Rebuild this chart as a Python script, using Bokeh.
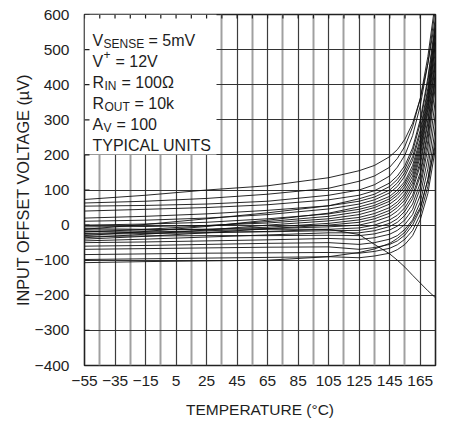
from bokeh.plotting import figure
from bokeh.models import Range1d, FixedTicker, ColumnDataSource
from bokeh.core.properties import value
from bokeh.embed import file_html
from bokeh.resources import INLINE

# ---------------- data ----------------
TEMP = [-55, -15, 25, 65, 105, 125, 135, 145, 150, 155, 160, 165, 170, 175]

U01 = [73, 85, 100, 112, 135, 155, 170, 195, 215, 245, 290, 360, 460, 590]
U02 = [63, 68, 76, 88, 105, 125, 140, 165, 190, 225, 280, 360, 480, 640]
U03 = [54, 56, 60, 68, 85, 100, 115, 140, 165, 200, 255, 340, 460, 620]
U04 = [40, 45, 50, 58, 72, 85, 98, 120, 140, 170, 220, 300, 420, 580]
U05 = [-12, 2, 18, 35, 55, 75, 88, 110, 130, 160, 210, 290, 410, 570]
U06 = [20, 25, 32, 42, 55, 68, 80, 100, 120, 150, 195, 270, 390, 560]
U07 = [11, 14, 20, 30, 46, 60, 72, 92, 110, 140, 185, 260, 380, 560]
U08 = [-30, -18, -4, 14, 34, 52, 64, 82, 100, 125, 170, 245, 370, 540]
U09 = [0, 3, 8, 18, 32, 45, 56, 75, 92, 118, 160, 235, 360, 540]
U10 = [-20, -12, -2, 10, 25, 38, 50, 68, 85, 110, 150, 225, 350, 520]
U11 = [-5, -4, -1, 6, 18, 30, 42, 60, 76, 100, 140, 215, 340, 520]
U12 = [-36, -26, -14, 0, 12, 22, 33, 50, 66, 90, 130, 205, 330, 500]
U13 = [-14, -14, -12, -6, 5, 15, 25, 42, 58, 82, 120, 195, 320, 480]
U14 = [-40, -32, -22, -10, 0, 8, 18, 34, 50, 72, 110, 180, 300, 470]
U15 = [-10, -12, -12, -10, -5, 0, 10, 25, 40, 62, 100, 170, 290, 460]
U16 = [-26, -24, -22, -18, -12, -8, 0, 15, 28, 50, 85, 150, 270, 440]
U17 = [-18, -20, -20, -19, -16, -15, -8, 5, 18, 40, 75, 140, 260, 430]
U18 = [-45, -40, -34, -28, -22, -22, -16, -4, 8, 28, 60, 120, 240, 420]
U19 = [-32, -31, -30, -30, -29, -30, -25, -14, -3, 15, 45, 105, 220, 400]
U20 = [-50, -48, -45, -42, -38, -41, -36, -26, -15, 2, 30, 85, 190, 360]
U21 = [-60, -58, -55, -52, -50, -55, -50, -40, -30, -12, 15, 65, 160, 320]
U22 = [-69, -67, -65, -63, -62, -69, -64, -55, -45, -28, 0, 45, 130, 280]
U23 = [-84, -82, -80, -79, -78, -80, -75, -66, -56, -40, -15, 30, 110, 250]
U24 = [-98, -96, -94, -92, -90, -93, -88, -80, -70, -55, -30, 15, 90, 220]
U25 = [-107, -104, -102, -100, -90, -78, -68, -52, -38, -20, 10, 50, 130, 230]
U26 = [-24, -20, -16, -12, -12, -27, -55, -82, -100, -120, -143, -165, -187, -207]

UNITS = [U01, U02, U03, U04, U05, U06, U07, U08, U09, U10, U11, U12, U13,
         U14, U15, U16, U17, U18, U19, U20, U21, U22, U23, U24, U25, U26]

X_TICKS = [-55, -35, -15, 5, 25, 45, 65, 85, 105, 125, 145, 165]
X_MINOR = [-45, -25, -5, 15, 35, 55, 75, 95, 115, 135, 155]
X_TOP_TICKS = [-55, -45, -35, -25, -15, -5, 5, 15, 25, 35, 45, 55, 65, 75, 85,
               95, 105, 115, 125, 135, 145, 155, 165]
Y_TICKS = [-400, -300, -200, -100, 0, 100, 200, 300, 400, 500, 600]
X_LABELS = ["\u221255", "\u221235", "\u221215", "5", "25", "45", "65", "85",
            "105", "125", "145", "165"]
Y_LABELS = ["\u2212400", "\u2212300", "\u2212200", "\u2212100", "0", "100",
            "200", "300", "400", "500", "600"]

X_TITLE = "TEMPERATURE (\u00b0C)"
Y_TITLE = "INPUT OFFSET VOLTAGE (\u00b5V)"

X_MIN, X_MAX = -55, 175
Y_MIN, Y_MAX = -400, 600
BOX_RIGHT, BOX_BOTTOM = 31.5, 201

# condition box text pieces: (text, x offset px, baseline offset px, font px)
NOTE_PIECES = [
    ("V", 8, 26, 16), ("SENSE", 19, 29, 12), ("= 5mV", 64, 26, 16),
    ("V", 8, 47, 16), ("+", 19, 40, 12), ("= 12V", 31, 47, 16),
    ("R", 8, 68, 16), ("IN", 20, 71, 12), ("= 100\u03a9", 37, 68, 16),
    ("R", 8, 89, 16), ("OUT", 20, 92, 12), ("= 10k", 50, 89, 16),
    ("A", 8, 110, 16), ("V", 19, 113, 12), ("= 100", 32, 110, 16),
    ("TYPICAL UNITS", 8, 131, 16),
]

FONT = "Liberation Sans"
INK = "#1e1e1e"

# ---------------- figure ----------------
p = figure(frame_width=351, frame_height=351,
           x_range=Range1d(X_MIN, X_MAX), y_range=Range1d(Y_MIN, Y_MAX),
           output_backend="svg", toolbar_location=None,
           min_border_left=84, min_border_top=14, min_border_right=5,
           min_border_bottom=2)
p.background_fill_color = "white"
p.border_fill_color = "white"
p.outline_line_color = "#222222"
p.outline_line_width = 1.6

# grid
p.xgrid.ticker = FixedTicker(ticks=X_TICKS, minor_ticks=X_MINOR)
p.xgrid.grid_line_color = "#3c3c3c"
p.xgrid.grid_line_width = 1.2
p.xgrid.minor_grid_line_color = "#a0a0a0"
p.xgrid.minor_grid_line_width = 2.0
p.ygrid.ticker = FixedTicker(ticks=Y_TICKS)
p.ygrid.grid_line_color = "#333333"
p.ygrid.grid_line_width = 1.2

# axes
xa = p.xaxis[0]
xa.ticker = FixedTicker(ticks=X_TICKS)
xa.major_label_overrides = dict(zip(X_TICKS, X_LABELS))
ya = p.yaxis[0]
ya.ticker = FixedTicker(ticks=Y_TICKS)
ya.major_label_overrides = dict(zip(Y_TICKS, Y_LABELS))
for ax in (xa, ya):
    ax.axis_line_color = None
    ax.major_tick_out = 0
    ax.major_tick_in = 0
    ax.minor_tick_line_color = None
    ax.major_tick_line_color = None
    ax.major_label_text_font = FONT
    ax.major_label_text_font_size = "15.5px"
    ax.major_label_text_color = INK
    ax.axis_label_text_font = FONT
    ax.axis_label_text_font_style = "normal"
    ax.axis_label_text_color = INK
xa.axis_label_text_font_size = "15.5px"
xa.major_label_standoff = 10
xa.axis_label = X_TITLE
xa.axis_label_standoff = 12
ya.axis_label_text_font_size = "16.3px"
ya.major_label_standoff = 15
ya.axis_label = Y_TITLE
ya.axis_label_standoff = 0

# curves
xs = [TEMP for _ in UNITS]
p.multi_line(xs=xs, ys=UNITS, line_color="#111111", line_width=1.0,
             line_alpha=0.9)

# condition box (white panel over the grid)
p.quad(left=[X_MIN], right=[BOX_RIGHT], bottom=[BOX_BOTTOM], top=[Y_MAX],
       fill_color="white", line_color=None)

# inward tick marks visible inside the box
p.ray(x=X_TOP_TICKS, y=[Y_MAX] * len(X_TOP_TICKS), length=4,
      length_units="screen", angle=-90, angle_units="deg",
      line_color=INK, line_width=1.2)
p.ray(x=[X_MIN] * len(Y_TICKS), y=Y_TICKS, length=5,
      length_units="screen", angle=0, angle_units="deg",
      line_color=INK, line_width=1.2)

src = ColumnDataSource(dict(
    x=[X_MIN] * len(NOTE_PIECES), y=[Y_MAX] * len(NOTE_PIECES),
    text=[t for t, _, _, _ in NOTE_PIECES],
    dx=[d for _, d, _, _ in NOTE_PIECES],
    dy=[b for _, _, b, _ in NOTE_PIECES],
    size=["%dpx" % s for _, _, _, s in NOTE_PIECES],
))
p.text(x="x", y="y", text="text", x_offset="dx", y_offset="dy", source=src,
       text_font=value(FONT), text_font_size="size", text_color=INK,
       text_align="left", text_baseline="alphabetic")

open("out.html", "w").write(file_html(p, INLINE))
